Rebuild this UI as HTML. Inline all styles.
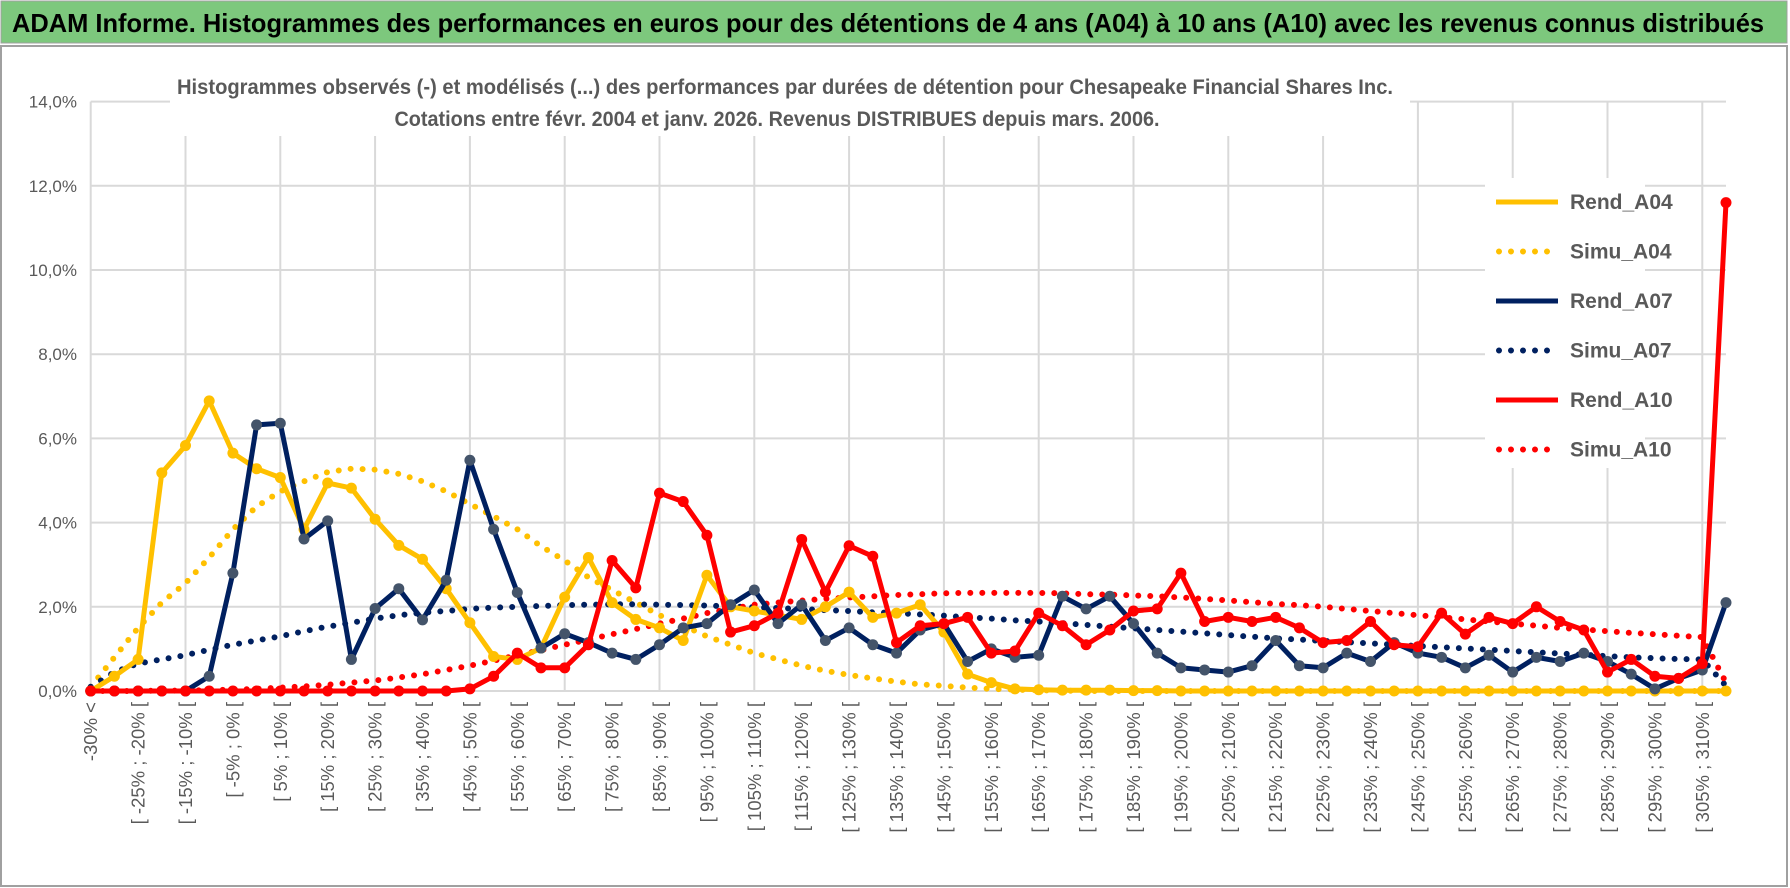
<!DOCTYPE html>
<html><head><meta charset="utf-8"><style>
html,body{margin:0;padding:0;background:#fff;width:1790px;height:888px;overflow:hidden}
svg{display:block;font-family:"Liberation Sans Narrow","Liberation Sans",sans-serif}
</style></head><body>
<svg id="chart" width="1790" height="888" viewBox="0 0 1790 888">
<rect x="0" y="0" width="1790" height="888" fill="#fff"/>
<rect x="1" y="1" width="1786" height="42" fill="#7dc87d" stroke="#a0a0a0" stroke-width="1"/>
<text x="12" y="32" font-size="26" font-weight="bold" fill="#000" textLength="1752" lengthAdjust="spacingAndGlyphs">ADAM Informe. Histogrammes des performances en euros pour des détentions de 4 ans (A04) à 10 ans (A10) avec les revenus connus distribués</text>
<rect x="1" y="46" width="1786" height="840" fill="none" stroke="#a0a0a0" stroke-width="2"/>
<g id="grid"></g>
<g id="yaxis"></g>
<g id="xaxis"></g>
<rect x="170" y="66" width="1240" height="70" fill="#fff"/>
<text x="785" y="94" text-anchor="middle" font-size="21" font-weight="bold" fill="#595959" textLength="1216" lengthAdjust="spacingAndGlyphs">Histogrammes observés (-) et modélisés (...) des performances par durées de détention pour Chesapeake Financial Shares Inc.</text>
<text x="777" y="126" text-anchor="middle" font-size="21" font-weight="bold" fill="#595959" textLength="765" lengthAdjust="spacingAndGlyphs">Cotations entre févr. 2004 et janv. 2026. Revenus DISTRIBUES depuis mars. 2006.</text>
<g id="series"></g>
<g id="legend"></g>
</svg>
<script>
const categories = ["-30% <"];
for (let k = -30; k < 310; k += 5) categories.push("[ " + k + "% ; " + (k + 5) + "% [");
categories.push("310% >");
const yTicks = [0, 2, 4, 6, 8, 10, 12, 14];
const yTickLabels = ["0,0%", "2,0%", "4,0%", "6,0%", "8,0%", "10,0%", "12,0%", "14,0%"];
const rendA04 = [0,0.35,0.75,5.18,5.83,6.89,5.65,5.28,5.07,3.84,4.94,4.82,4.08,3.46,3.13,2.43,1.62,0.82,0.75,1.02,2.23,3.17,2.1,1.7,1.5,1.2,2.75,2.0,1.9,1.8,1.7,2.0,2.35,1.75,1.85,2.05,1.4,0.4,0.2,0.05,0.03,0.02,0.02,0.02,0.01,0.01,0,0,0,0,0,0,0,0,0,0,0,0,0,0,0,0,0,0,0,0,0,0,0,0];
const simuA04 = [0.1,0.8,1.5,2.1,2.56,3.17,3.84,4.38,4.74,4.98,5.2,5.28,5.26,5.16,4.98,4.74,4.44,4.15,3.84,3.44,3.1,2.7,2.4,2.1,1.8,1.55,1.3,1.1,0.9,0.75,0.6,0.48,0.38,0.3,0.22,0.16,0.12,0.08,0.05,0.03,0.02,0.01,0,0,0,0,0,0,0,0,0,0,0,0,0,0,0,0,0,0,0,0,0,0,0,0,0,0,0,0];
const rendA07 = [0,0,0,0,0,0.35,2.8,6.32,6.36,3.61,4.04,0.75,1.96,2.43,1.69,2.63,5.48,3.84,2.34,1.02,1.36,1.15,0.9,0.75,1.1,1.5,1.6,2.05,2.4,1.6,2.05,1.2,1.5,1.1,0.9,1.45,1.6,0.7,1.0,0.8,0.85,2.25,1.95,2.25,1.6,0.9,0.55,0.5,0.45,0.6,1.2,0.6,0.55,0.9,0.7,1.15,0.9,0.8,0.55,0.85,0.45,0.8,0.7,0.9,0.7,0.4,0.05,0.3,0.5,2.1];
const simuA07 = [0.1,0.45,0.65,0.75,0.85,0.98,1.1,1.2,1.3,1.42,1.53,1.62,1.72,1.8,1.86,1.9,1.95,1.98,2.0,2.02,2.04,2.05,2.06,2.06,2.05,2.04,2.03,2.01,1.99,1.97,1.95,1.92,1.9,1.87,1.85,1.82,1.79,1.75,1.72,1.68,1.65,1.61,1.57,1.53,1.49,1.45,1.41,1.37,1.33,1.29,1.25,1.22,1.19,1.16,1.13,1.1,1.07,1.04,1.01,0.98,0.95,0.92,0.89,0.86,0.83,0.8,0.78,0.76,0.75,0.12];
const rendA10 = [0,0,0,0,0,0,0,0,0,0,0,0,0,0,0,0,0.05,0.35,0.9,0.55,0.55,1.1,3.1,2.45,4.7,4.5,3.7,1.4,1.55,1.85,3.6,2.35,3.45,3.2,1.15,1.55,1.6,1.75,0.9,0.95,1.85,1.55,1.1,1.45,1.9,1.95,2.8,1.65,1.75,1.65,1.75,1.5,1.15,1.2,1.65,1.1,1.05,1.85,1.35,1.75,1.6,2.0,1.65,1.45,0.45,0.75,0.35,0.3,0.65,11.6];
const simuA10 = [0,0,0,0.01,0.01,0.02,0.03,0.05,0.08,0.11,0.15,0.2,0.25,0.32,0.4,0.5,0.6,0.72,0.85,0.97,1.1,1.22,1.35,1.47,1.6,1.72,1.85,1.95,2.05,2.1,2.15,2.19,2.22,2.25,2.28,2.3,2.32,2.33,2.33,2.33,2.33,2.32,2.3,2.29,2.27,2.25,2.22,2.19,2.15,2.11,2.07,2.04,2.0,1.95,1.9,1.85,1.8,1.75,1.7,1.65,1.6,1.55,1.5,1.46,1.42,1.38,1.35,1.31,1.28,0.2];

const NS = "http://www.w3.org/2000/svg";
const plotL = 90.7, plotR = 1726, y0 = 691, yTop = 101.6;
const X = i => plotL + i * (plotR - plotL) / (categories.length - 1);
const Y = v => y0 - v * (y0 - yTop) / 14;
function mk(tag, attrs, parent) { const e = document.createElementNS(NS, tag); for (const k in attrs) e.setAttribute(k, attrs[k]); parent.appendChild(e); return e; }
const grid = document.getElementById("grid"), yax = document.getElementById("yaxis"), xax = document.getElementById("xaxis");
yTicks.forEach((t, i) => {
  const l = mk("line", {x1: plotL, x2: plotR, y1: Y(t), y2: Y(t), stroke: "#d9d9d9", "stroke-width": 2}, grid);
  
  
  const tx = mk("text", {x: 77, y: Y(t) + 6, "text-anchor": "end", "font-size": 17, fill: "#595959", "font-family": "Liberation Sans, sans-serif"}, yax);
  tx.textContent = yTickLabels[i];
  
  
});
for (let i = 0; i < categories.length; i += 4) {
  const l = mk("line", {x1: X(i), x2: X(i), y1: yTop, y2: y0, stroke: "#d9d9d9", "stroke-width": 2}, grid);
  
  
}
for (let i = 0; i < categories.length - 1; i += 2) {
  const tx = mk("text", {x: 0, y: 0, "text-anchor": "end", "font-size": 18.5, fill: "#595959", "font-family": "Liberation Sans, sans-serif", transform: "translate(" + (X(i) + 6.5) + ",702) rotate(-90)"}, xax);
  tx.textContent = categories[i];
  
  
}
const ser = document.getElementById("series");
function pts(arr) { return arr.map((v, i) => X(i).toFixed(1) + "," + Y(v).toFixed(1)).join(" "); }
function dotted(arr, color, name) {
  const p = mk("polyline", {points: pts(arr), fill: "none", stroke: color, "stroke-width": 6, "stroke-linecap": "round", "stroke-dasharray": "0 12"}, ser);
  
  
}
function solid(arr, color, mcolor, name) {
  const g = mk("g", {}, ser);
  
  
  mk("polyline", {points: pts(arr), fill: "none", stroke: color, "stroke-width": 5, "stroke-linejoin": "round"}, g);
  arr.forEach((v, i) => {
    const c = mk("circle", {cx: X(i), cy: Y(v), r: 5.5, fill: mcolor}, g);
    
    
  });
}
dotted(simuA04, "#ffc000", "simu-a04-line");
dotted(simuA07, "#002060", "simu-a07-line");
dotted(simuA10, "#ff0000", "simu-a10-line");
solid(rendA04, "#ffc000", "#ffc000", "rend-a04-line");
solid(rendA07, "#002060", "#44546a", "rend-a07-line");
solid(rendA10, "#ff0000", "#ff0000", "rend-a10-line");

const legendNames = ["Rend_A04", "Simu_A04", "Rend_A07", "Simu_A07", "Rend_A10", "Simu_A10"];
const legendColors = ["#ffc000", "#ffc000", "#002060", "#002060", "#ff0000", "#ff0000"];
const lg = document.getElementById("legend");
mk("rect", {x: 1485, y: 178, width: 160, height: 290, fill: "#fff"}, lg);
legendNames.forEach((n, i) => {
  const yy = 202 + i * 49.5;
  const g = mk("g", {}, lg);
  
  
  if (i % 2 === 0) mk("line", {x1: 1496, x2: 1558, y1: yy, y2: yy, stroke: legendColors[i], "stroke-width": 5}, g);
  else mk("line", {x1: 1499, x2: 1558, y1: yy, y2: yy, stroke: legendColors[i], "stroke-width": 6, "stroke-linecap": "round", "stroke-dasharray": "0 12"}, g);
  const t = mk("text", {x: 1570, y: yy + 7, "font-size": 21, "font-weight": "bold", fill: "#595959"}, g);
  t.textContent = n;
});
</script>
</body></html>
